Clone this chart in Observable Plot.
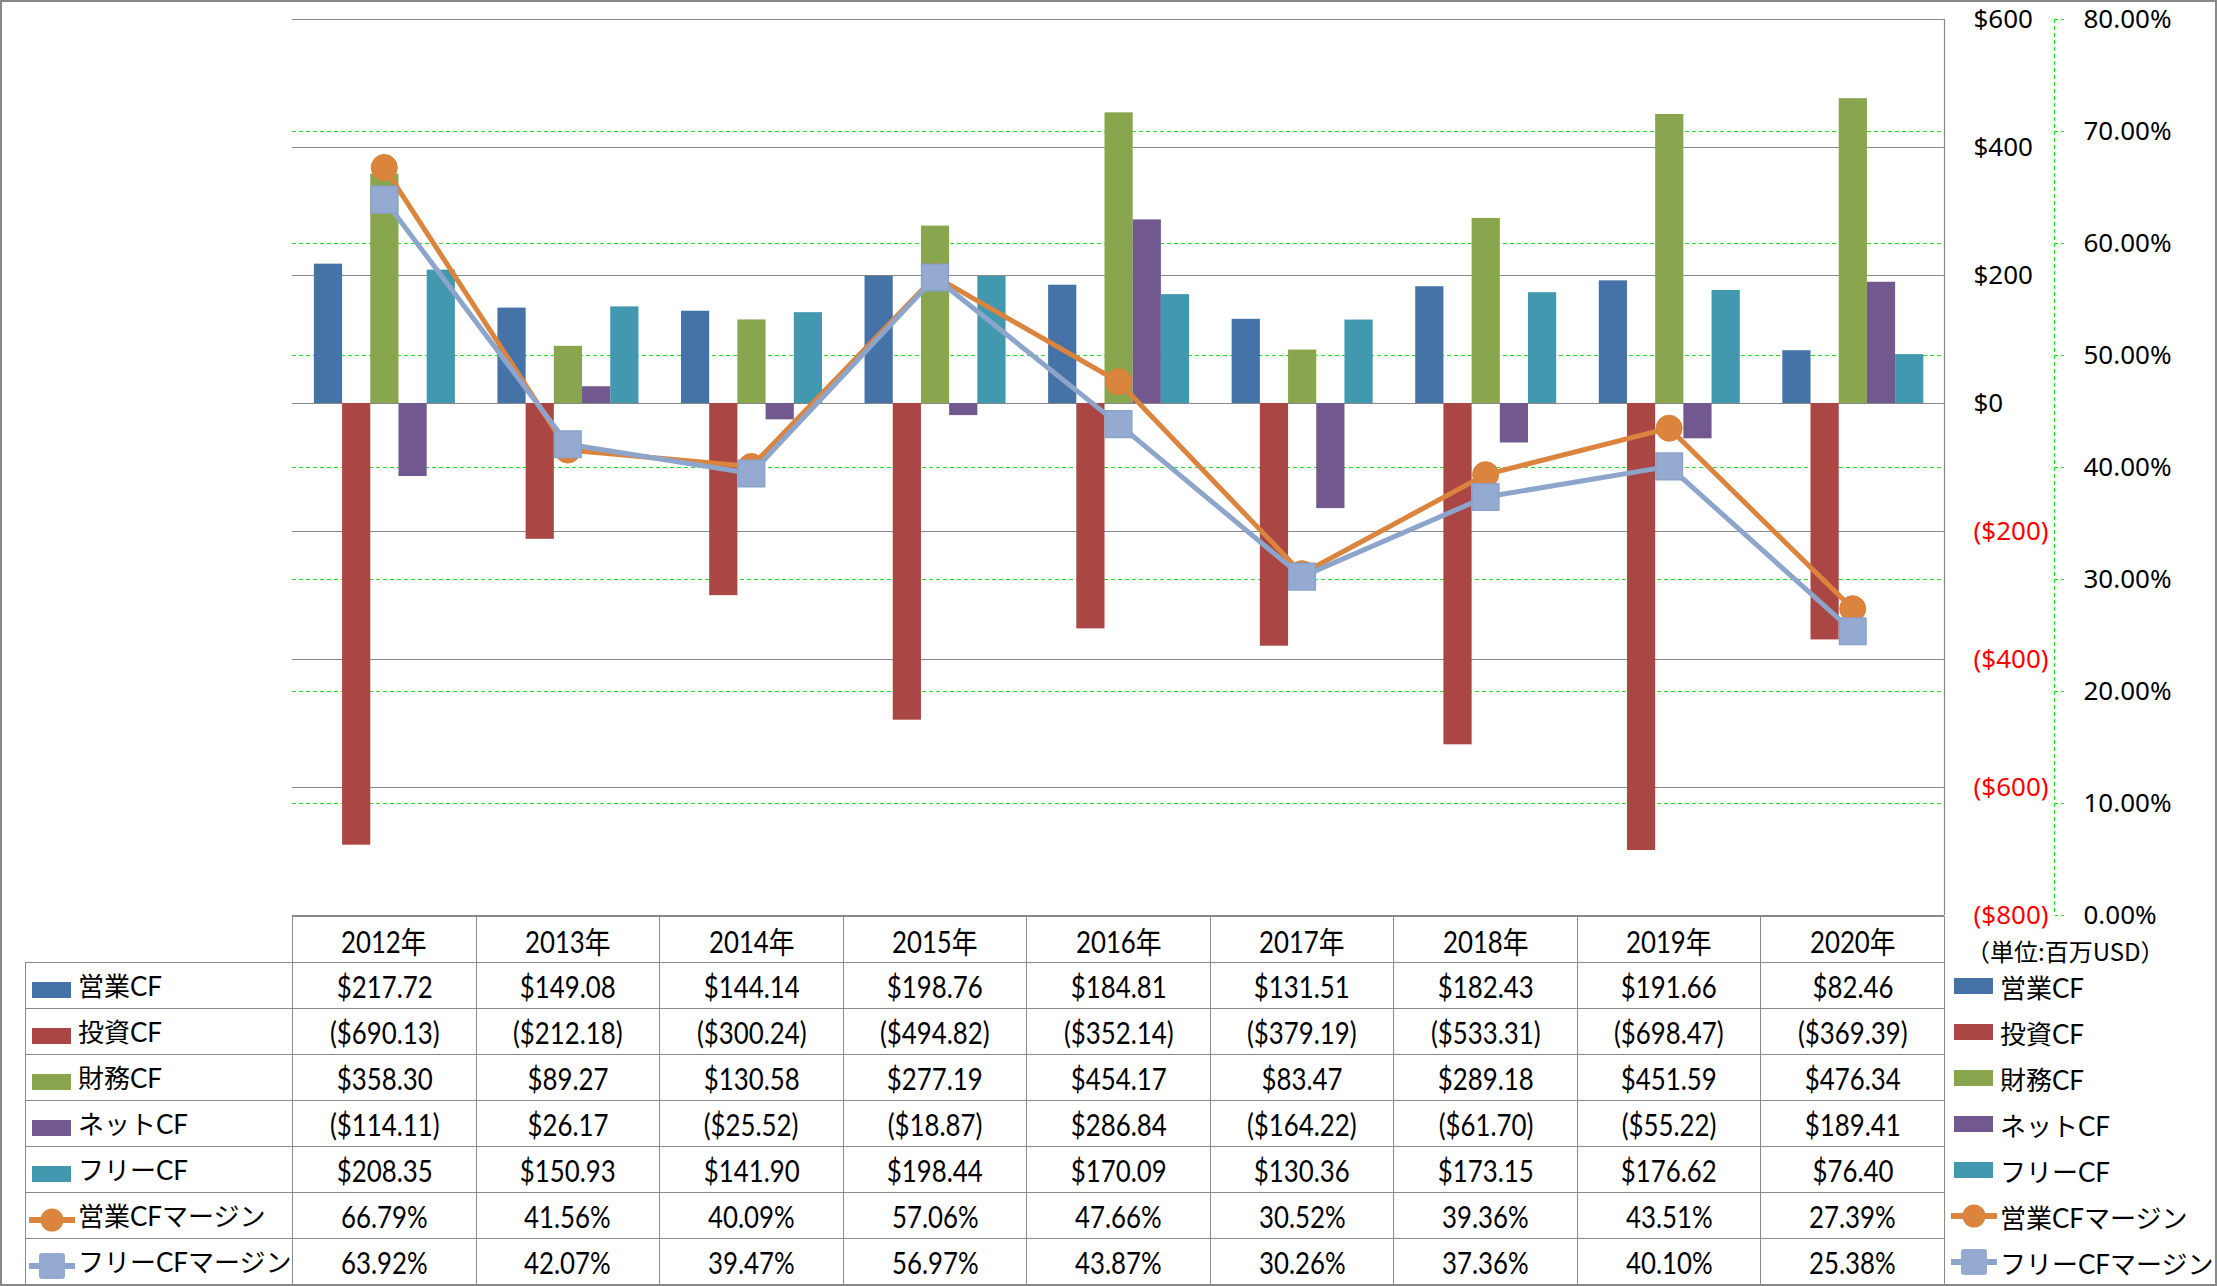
<!DOCTYPE html>
<html><head><meta charset="utf-8">
<script src="https://cdn.jsdelivr.net/npm/d3@7"></script>
<script src="https://cdn.jsdelivr.net/npm/@observablehq/plot@0.6"></script>
<style>
body{margin:0;background:#fff;}
#wrap{position:relative;width:2217px;height:1286px;overflow:hidden;background:#fff;}
#chart{position:absolute;left:0;top:0;}
#chart svg{overflow:visible;}
#border{position:absolute;left:0;top:0;width:2217px;height:1286px;box-sizing:border-box;border:2px solid #888;pointer-events:none;}
#tbl{position:absolute;left:25px;top:916px;width:1919px;border-collapse:collapse;table-layout:fixed;font-family:"Lato","Noto Sans CJK JP",sans-serif;font-size:30px;color:#000;}
#tbl td{border:1px solid #8a8a8a;height:45px;padding:0;text-align:center;vertical-align:middle;white-space:nowrap;overflow:visible;}
#tbl td span.v{display:inline-block;transform:scaleX(0.86);transform-origin:50% 50%;}
#tbl td.lab{text-align:left;font-size:26px;}
#tbl td.blank{border:none;}
.sw{display:inline-block;vertical-align:middle;margin-left:3px;margin-right:3px;}
#unit{position:absolute;left:1966px;top:933px;font-family:"Noto Sans CJK JP",sans-serif;font-size:24px;color:#000;white-space:nowrap;}
#rlegend{position:absolute;left:1948px;top:963px;font-family:"Lato","Noto Sans CJK JP",sans-serif;font-size:26px;color:#000;}
#rlegend .row{height:46px;display:flex;align-items:center;white-space:nowrap;}
</style>
</head><body>
<div id="wrap">
  <div id="chart"></div>
  <table id="tbl"></table>
  <div id="unit">（単位:百万USD）</div>
  <div id="rlegend"></div>
  <div id="border"></div>
</div>
<script>
// ---- data ----
const years = ["2012年","2013年","2014年","2015年","2016年","2017年","2018年","2019年","2020年"];
const opCF   = [217.72, 149.08, 144.14, 198.76, 184.81, 131.51, 182.43, 191.66, 82.46];
const invCF  = [-690.13, -212.18, -300.24, -494.82, -352.14, -379.19, -533.31, -698.47, -369.39];
const finCF  = [358.30, 89.27, 130.58, 277.19, 454.17, 83.47, 289.18, 451.59, 476.34];
const netCF  = [-114.11, 26.17, -25.52, -18.87, 286.84, -164.22, -61.70, -55.22, 189.41];
const freeCF = [208.35, 150.93, 141.90, 198.44, 170.09, 130.36, 173.15, 176.62, 76.40];
const opMargin   = [66.79, 41.56, 40.09, 57.06, 47.66, 30.52, 39.36, 43.51, 27.39];
const freeMargin = [63.92, 42.07, 39.47, 56.97, 43.87, 30.26, 37.36, 40.10, 25.38];
const barNames = ["営業CF","投資CF","財務CF","ネットCF","フリーCF"];
const lineNames = ["営業CFマージン","フリーCFマージン"];
const usdTicks = [600, 400, 200, 0, -200, -400, -600, -800];
const pctTicks = [0, 10, 20, 30, 40, 50, 60, 70, 80];

// ---- styles ----
const barColors = ["#4572A7","#AA4643","#89A54E","#71588F","#4198AF"];
const lineColors = ["#DB843D","#8EA5CB"];
const markerFill = ["#DB843D","#94AAD1"];
const gridGray = "#888888";
const gridGreen = "#1EE01E";

const barSeries = [opCF, invCF, finCF, netCF, freeCF];
const lineSeries = [opMargin, freeMargin];

// secondary (percent) axis shares the frame: 0%..80% spans -800..600
const usdMin = -800, usdMax = 600, pctMax = 80;
const pctToY = p => usdMin + p / pctMax * (usdMax - usdMin);
const yToPct = v => (v - usdMin) / (usdMax - usdMin) * pctMax;

const W = 2217, H = 940, mL = 292, mR = 273, mT = 19, mB = 25;
const bandW = (W - mL - mR) / years.length;
const barW = 28.2;
const groupOff = (bandW - barW * barNames.length) / 2 + 0.6;

const marks = [
  Plot.gridY(usdTicks, {stroke: gridGray, strokeOpacity: 1, strokeWidth: 1.2}),
  Plot.gridY(pctTicks.filter(p => p > 0 && p < pctMax).map(pctToY), {stroke: gridGreen, strokeOpacity: 1, strokeWidth: 1.2, strokeDasharray: "4,3"})
];
barSeries.forEach((arr, i) => {
  marks.push(Plot.barY(years.map((yr, j) => ({year: yr, v: arr[j]})), {
    x: "year", y: "v", fill: barColors[i],
    insetLeft: groupOff + i * barW,
    insetRight: bandW - groupOff - (i + 1) * barW
  }));
});
lineSeries.forEach((arr, i) => {
  const d = years.map((yr, j) => ({year: yr, p: arr[j]}));
  marks.push(Plot.line(d, {x: "year", y: r => pctToY(r.p), stroke: lineColors[i], strokeWidth: 5}));
  if (i === 0) {
    marks.push(Plot.dot(d, {x: "year", y: r => pctToY(r.p), r: 13, fill: markerFill[i], stroke: "#D98035", strokeWidth: 1}));
  } else {
    marks.push(Plot.dot(d, {x: "year", y: r => pctToY(r.p), symbol: "square", r: 15, fill: markerFill[i], stroke: "#8AA2CA", strokeWidth: 1.5, strokeLinejoin: "round"}));
  }
});
const center = (mL + W - mR) / 2;
marks.push(
  Plot.ruleX([0], {x: null, dx: (W - mR) - center, stroke: gridGray, strokeWidth: 1.2}),
  Plot.ruleX([0], {x: null, dx: (W - mR) - center + 110, stroke: gridGreen, strokeWidth: 1.2, strokeDasharray: "4,3"}),
  Plot.axisY({anchor: "right", ticks: usdTicks.filter(v => v >= 0), tickSize: 0, tickPadding: 29, label: null,
    tickFormat: v => "$" + v, fill: "#000", fontSize: 26}),
  Plot.axisY({anchor: "right", ticks: usdTicks.filter(v => v < 0), tickSize: 0, tickPadding: 29, label: null,
    tickFormat: v => "($" + (-v) + ")", fill: "#FF0000", fontSize: 26}),
  Plot.axisY({anchor: "right", ticks: pctTicks.map(pctToY), tickSize: 10, tickPadding: 19, dx: 110, label: null,
    stroke: gridGreen, strokeDasharray: "3,3", fill: "#000", fontSize: 26,
    tickFormat: v => yToPct(v).toFixed(2) + "%"})
);

const chart = Plot.plot({
  width: W, height: H, marginLeft: mL, marginRight: mR, marginTop: mT, marginBottom: mB,
  style: {fontFamily: "'Noto Sans', sans-serif", fontSize: "26px", background: "transparent", color: "#000"},
  x: {domain: years, type: "band", padding: 0, round: false, axis: null},
  y: {domain: [usdMin, usdMax], axis: null},
  marks
});
document.getElementById("chart").appendChild(chart);

// ---- legend swatches ----
function swatch(kind, i) {
  const ns = "http://www.w3.org/2000/svg";
  const s = document.createElementNS(ns, "svg");
  s.setAttribute("width", 46); s.setAttribute("height", 30);
  s.setAttribute("class", "sw");
  if (kind === "bar") {
    s.innerHTML = `<rect x="3" y="7" width="39" height="16" fill="${barColors[i]}"/>`;
  } else if (i === 0) {
    s.innerHTML = `<line x1="1" x2="45" y1="15" y2="15" stroke="${lineColors[0]}" stroke-width="6" stroke-linecap="round"/><circle cx="23" cy="15" r="11.5" fill="${markerFill[0]}"/>`;
  } else {
    s.innerHTML = `<line x1="1" x2="45" y1="15" y2="15" stroke="${lineColors[1]}" stroke-width="6" stroke-linecap="round"/><rect x="10" y="2" width="26" height="26" rx="3" fill="${markerFill[1]}"/>`;
  }
  return s;
}
const fmtUSD = v => v < 0 ? "($" + (-v).toFixed(2) + ")" : "$" + v.toFixed(2);
const fmtPct = v => v.toFixed(2) + "%";

// ---- data table ----
const tbl = document.getElementById("tbl");
const cg = document.createElement("colgroup");
[267, ...years.map(() => bandW)].forEach(w => { const c = document.createElement("col"); c.style.width = w + "px"; cg.appendChild(c); });
tbl.appendChild(cg);
function valCell(tr, text) {
  const c = tr.insertCell();
  const s = document.createElement("span"); s.className = "v"; s.textContent = text;
  c.appendChild(s);
}
const hr = tbl.insertRow();
const blank = hr.insertCell(); blank.className = "blank";
years.forEach(yr => valCell(hr, yr));
const rows = [
  ...barSeries.map((arr, i) => ({kind: "bar", i, name: barNames[i], vals: arr.map(fmtUSD)})),
  ...lineSeries.map((arr, i) => ({kind: "line", i, name: lineNames[i], vals: arr.map(fmtPct)}))
];
rows.forEach(r => {
  const tr = tbl.insertRow();
  const lc = tr.insertCell(); lc.className = "lab";
  lc.appendChild(swatch(r.kind, r.i));
  lc.appendChild(document.createTextNode(r.name));
  r.vals.forEach(v => valCell(tr, v));
});

// ---- right legend ----
const rl = document.getElementById("rlegend");
rows.forEach(r => {
  const d = document.createElement("div"); d.className = "row";
  d.appendChild(swatch(r.kind, r.i));
  d.appendChild(document.createTextNode(r.name));
  rl.appendChild(d);
});
</script>
</body></html>
